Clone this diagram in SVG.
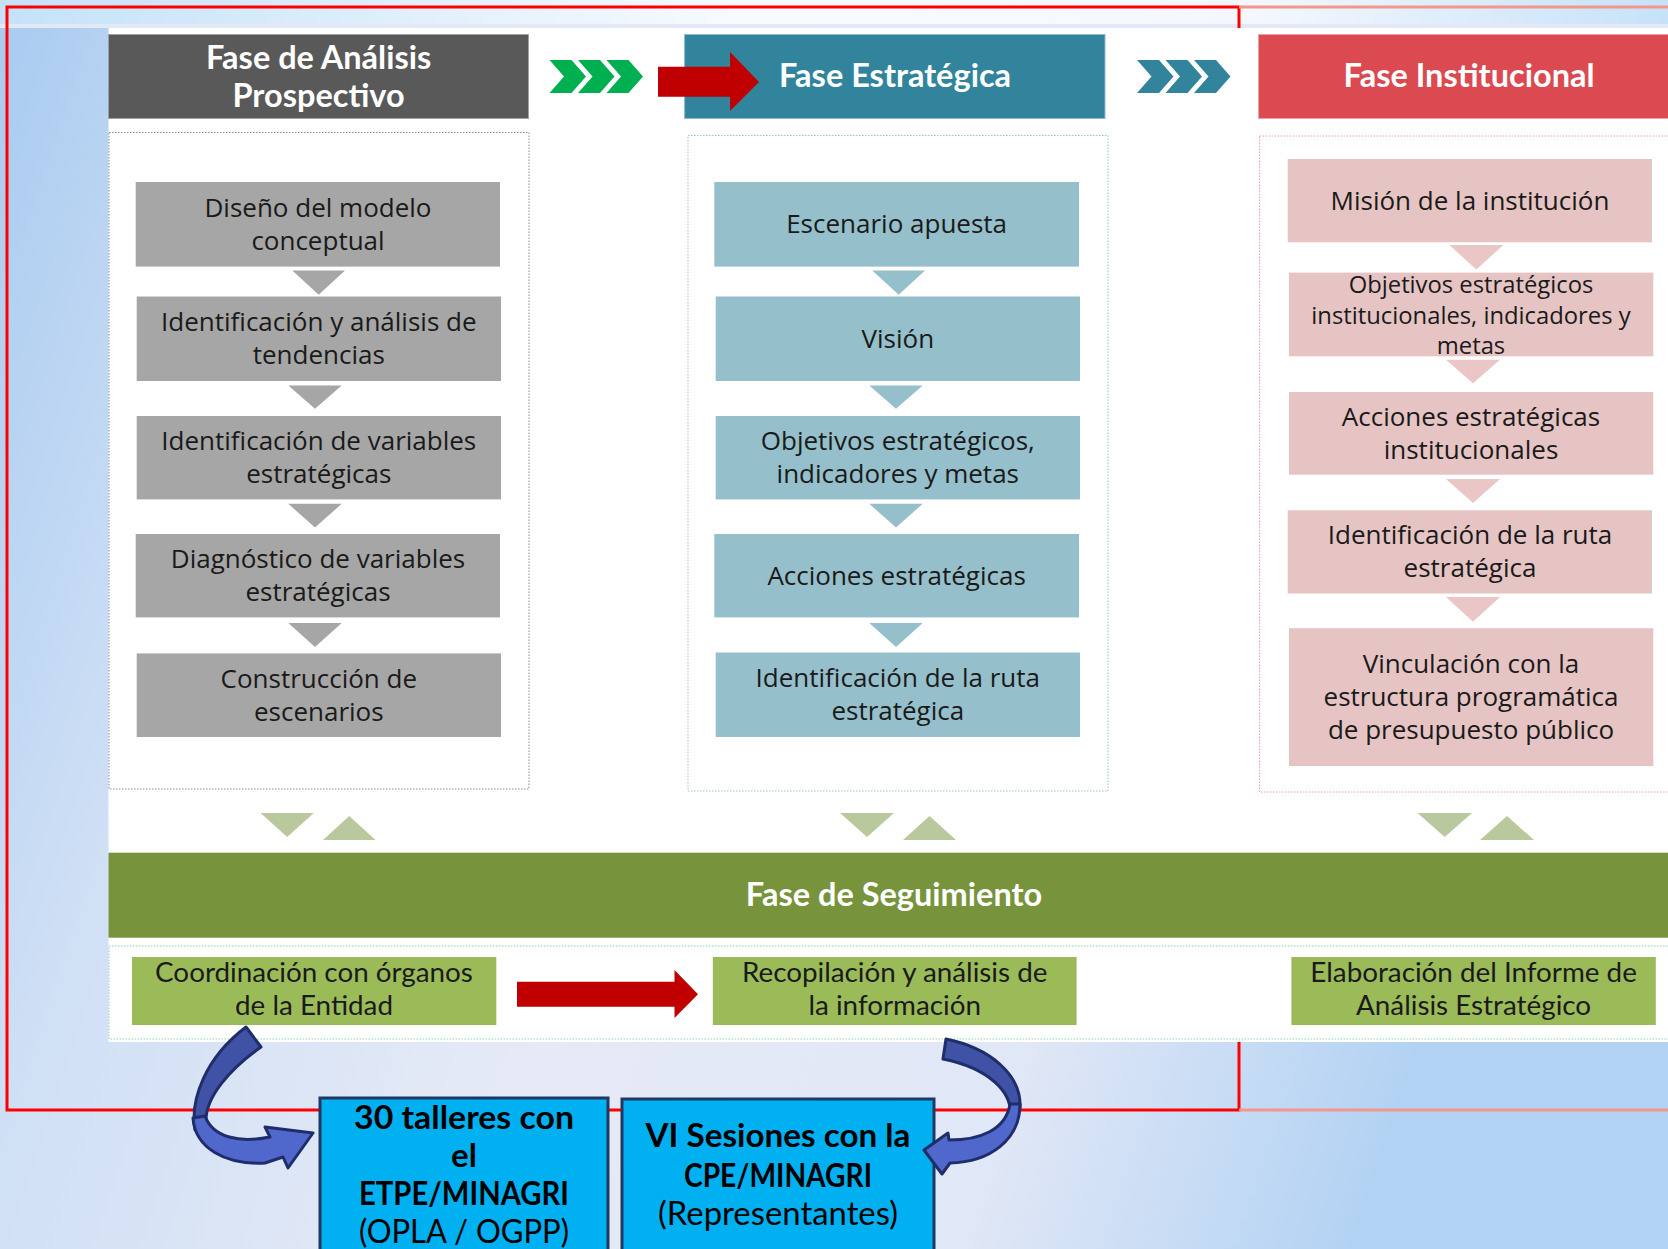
<svg xmlns="http://www.w3.org/2000/svg" width="1668" height="1249" viewBox="0 0 1668 1249">
  <defs>
    <linearGradient id="bg" x1="0" y1="0" x2="1" y2="0.25">
      <stop offset="0" stop-color="#A8CBF0"/>
      <stop offset="0.22" stop-color="#D0E0F5"/>
      <stop offset="0.5" stop-color="#E6EAF6"/>
      <stop offset="0.78" stop-color="#E0E7F6"/>
      <stop offset="1" stop-color="#B2D2F3"/>
    </linearGradient>
    <linearGradient id="topband" x1="0" y1="0" x2="1" y2="0">
      <stop offset="0" stop-color="#C4E2F8"/>
      <stop offset="0.45" stop-color="#F8FBFE"/>
      <stop offset="0.75" stop-color="#F4F8FE"/>
      <stop offset="1" stop-color="#C6E2F8"/>
    </linearGradient>
    <style>
      .hdr { font-family: Lato, "Liberation Sans", sans-serif; font-weight: 700; font-size: 32.5px; fill: #FFFFFF; text-anchor: middle; }
      .body { font-family: "Open Sans", "Noto Sans", sans-serif; font-size: 26px; fill: #1A1A1A; text-anchor: middle; }
      .small { font-size: 23.8px; }
      .seg { font-family: Lato, "Liberation Sans", sans-serif; font-size: 27.8px; fill: #1A1A1A; text-anchor: middle; }
      .blue { font-family: Lato, "Liberation Sans", sans-serif; font-size: 33px; fill: #000000; text-anchor: middle; }
      .b { font-weight: 700; }
      .gbox { fill: #A6A6A6; }
      .tbox { fill: #95BFCB; }
      .pbox { fill: #E6C4C4; }
      .sbox { fill: #9BBB59; }
      .gtri { fill: #A6A6A6; }
      .ttri { fill: #95BFCB; }
      .ptri { fill: #EAC6C6; }
      .otri { fill: #BAC89E; }
      .arrback { fill: #3F52A6; stroke: #1F2D6B; stroke-width: 3; stroke-linejoin: round; }
      .arrfront { fill: #5068CC; stroke: #1F2D6B; stroke-width: 3; stroke-linejoin: round; }
    </style>
  </defs>

  <!-- background -->
  <rect x="0" y="0" width="1668" height="1249" fill="url(#bg)"/>
  <rect x="0" y="0" width="1668" height="24" fill="url(#topband)"/>
  <rect x="0" y="24" width="1668" height="4" fill="#E2E8F6"/>

  <!-- red frame -->
  <rect x="7" y="7" width="1232" height="1103" fill="none" stroke="#FF0000" stroke-width="3"/>
  <line x1="1239" y1="7" x2="1668" y2="7" stroke="#F4968C" stroke-width="3"/>
  <line x1="1239" y1="1110" x2="1668" y2="1110" stroke="#F4968C" stroke-width="3"/>

  <!-- white panel -->
  <rect x="108.5" y="28" width="1560" height="1014" fill="#FFFFFF"/>

  <!-- Phase headers -->
  <g id="header-prospectivo">
    <rect x="108.5" y="34.5" width="420" height="84" fill="#595959" stroke="#A0A0A0" stroke-width="1"/>
    <text class="hdr" x="318.6" y="69">Fase de Análisis</text>
    <text class="hdr" x="318.6" y="107">Prospectivo</text>
  </g>
  <g id="header-estrategica">
    <rect x="684.6" y="34.5" width="420.4" height="84" fill="#31849B" stroke="#8CBCCA" stroke-width="1"/>
    <text class="hdr" x="895" y="87">Fase Estratégica</text>
  </g>
  <g id="header-institucional">
    <rect x="1258.5" y="34.5" width="410" height="84" fill="#DA4A50" stroke="#EBA3A5" stroke-width="1"/>
    <text class="hdr" x="1469" y="87">Fase Institucional</text>
  </g>

  <!-- column containers -->
  <g id="col-prospectivo">
    <rect x="109" y="132.5" width="420" height="656.5" fill="#FFFFFF" stroke="#8C8C8C" stroke-width="1" stroke-dasharray="1.5 1.5"/>
  </g>
  <g id="col-estrategica">
    <rect x="688" y="135.5" width="420" height="655.5" fill="#FFFFFF" stroke="#9CC3CF" stroke-width="1" stroke-dasharray="1.5 1.5"/>
  </g>
  <g id="col-institucional">
    <rect x="1259.5" y="136" width="410" height="656" fill="#FFFFFF" stroke="#F0A0A4" stroke-width="1" stroke-dasharray="1.5 1.5"/>
  </g>

  <!-- left column nodes -->
  <g id="p1"><rect class="gbox" x="135.7" y="182" width="364.3" height="84.6"/>
    <text class="body" x="318" y="216.8">Diseño del modelo</text>
    <text class="body" x="318" y="249.8">conceptual</text></g>
  <g id="p2"><rect class="gbox" x="136.7" y="296.5" width="364.3" height="84.5"/>
    <text class="body" x="318.8" y="331.2">Identificación y análisis de</text>
    <text class="body" x="318.8" y="364.2">tendencias</text></g>
  <g id="p3"><rect class="gbox" x="136.7" y="416" width="364.3" height="83.4"/>
    <text class="body" x="318.8" y="450.2">Identificación de variables</text>
    <text class="body" x="318.8" y="483.2">estratégicas</text></g>
  <g id="p4"><rect class="gbox" x="135.7" y="534" width="364.3" height="83.4"/>
    <text class="body" x="318" y="568.2">Diagnóstico de variables</text>
    <text class="body" x="318" y="601.2">estratégicas</text></g>
  <g id="p5"><rect class="gbox" x="136.7" y="653.4" width="364.3" height="83.6"/>
    <text class="body" x="318.8" y="687.7">Construcción de</text>
    <text class="body" x="318.8" y="720.7">escenarios</text></g>

  <!-- middle column nodes -->
  <g id="e1"><rect class="tbox" x="714.3" y="182" width="364.7" height="84.6"/>
    <text class="body" x="896.6" y="233.3">Escenario apuesta</text></g>
  <g id="e2"><rect class="tbox" x="715.7" y="296.5" width="364.3" height="84.5"/>
    <text class="body" x="897.8" y="347.7">Visión</text></g>
  <g id="e3"><rect class="tbox" x="715.7" y="416" width="364.3" height="83.4"/>
    <text class="body" x="897.8" y="450.2">Objetivos estratégicos,</text>
    <text class="body" x="897.8" y="483.2">indicadores y metas</text></g>
  <g id="e4"><rect class="tbox" x="714.3" y="534" width="364.7" height="83.4"/>
    <text class="body" x="896.6" y="584.7">Acciones estratégicas</text></g>
  <g id="e5"><rect class="tbox" x="715.7" y="652.5" width="364.3" height="84.5"/>
    <text class="body" x="897.8" y="687.2">Identificación de la ruta</text>
    <text class="body" x="897.8" y="720.2">estratégica</text></g>

  <!-- right column nodes -->
  <g id="i1"><rect class="pbox" x="1287.7" y="159" width="364.3" height="83.3"/>
    <text class="body" x="1470" y="209.6">Misión de la institución</text></g>
  <g id="i2"><rect class="pbox" x="1289" y="272.6" width="364.3" height="83.7"/>
    <text class="body small" x="1471" y="293">Objetivos estratégicos</text>
    <text class="body small" x="1471" y="323.5">institucionales, indicadores y</text>
    <text class="body small" x="1471" y="354">metas</text></g>
  <g id="i3"><rect class="pbox" x="1289" y="392" width="364.3" height="82.7"/>
    <text class="body" x="1471" y="425.8">Acciones estratégicas</text>
    <text class="body" x="1471" y="458.8">institucionales</text></g>
  <g id="i4"><rect class="pbox" x="1287.7" y="510.3" width="364.3" height="83.2"/>
    <text class="body" x="1470" y="544.4">Identificación de la ruta</text>
    <text class="body" x="1470" y="577.4">estratégica</text></g>
  <g id="i5"><rect class="pbox" x="1289" y="628.2" width="364.3" height="137.9"/>
    <text class="body" x="1471" y="673.2">Vinculación con la</text>
    <text class="body" x="1471" y="706.2">estructura programática</text>
    <text class="body" x="1471" y="739.2">de presupuesto público</text></g>

  <!-- seguimiento band -->
  <g id="header-seguimiento">
    <rect x="108.5" y="852.7" width="1560" height="85" fill="#77933C"/>
    <text class="hdr" x="894" y="905.5">Fase de Seguimiento</text>
  </g>
  <g id="col-seguimiento">
    <rect x="109" y="946" width="1560" height="93" fill="#FFFFFF" stroke="#8FD3A6" stroke-width="1" stroke-dasharray="1.5 1.5"/>
  </g>
  <g id="s1"><rect class="sbox" x="132" y="957" width="364.3" height="68"/>
    <text class="seg" x="314" y="982">Coordinación con órganos</text>
    <text class="seg" x="314" y="1015.3">de la Entidad</text></g>
  <g id="s2"><rect class="sbox" x="712.8" y="957" width="363.8" height="68"/>
    <text class="seg" x="894.7" y="982">Recopilación y análisis de</text>
    <text class="seg" x="894.7" y="1015.3">la información</text></g>
  <g id="s3"><rect class="sbox" x="1291.4" y="957" width="364.4" height="68"/>
    <text class="seg" x="1473.6" y="982">Elaboración del Informe de</text>
    <text class="seg" x="1473.6" y="1015.3">Análisis Estratégico</text></g>

  <!-- bottom blue boxes -->
  <g id="talleres">
    <rect x="320" y="1098" width="288" height="170" fill="#00B0F0" stroke="#1F3864" stroke-width="3"/>
    <text class="blue b" x="464" y="1129" textLength="220" lengthAdjust="spacingAndGlyphs">30 talleres con</text>
    <text class="blue b" x="464" y="1167">el</text>
    <text class="blue b" x="464" y="1205" textLength="210" lengthAdjust="spacingAndGlyphs">ETPE/MINAGRI</text>
    <text class="blue" x="464" y="1243" textLength="210" lengthAdjust="spacingAndGlyphs">(OPLA / OGPP)</text>
  </g>
  <g id="sesiones">
    <rect x="622" y="1099" width="312" height="170" fill="#00B0F0" stroke="#1F3864" stroke-width="3"/>
    <text class="blue b" x="778" y="1147" textLength="265" lengthAdjust="spacingAndGlyphs">VI Sesiones con la</text>
    <text class="blue b" x="778" y="1187" textLength="188" lengthAdjust="spacingAndGlyphs">CPE/MINAGRI</text>
    <text class="blue" x="778" y="1225" textLength="240" lengthAdjust="spacingAndGlyphs">(Representantes)</text>
  </g>

  <!-- connectors -->
  <g id="connectors">
    <!-- green chevrons -->
    <g fill="#00B050">
      <polygon points="549.5,60 571.5,60 586,76.5 571.5,93 549.5,93 564,76.5"/>
      <polygon points="578,60 600,60 614.5,76.5 600,93 578,93 592.5,76.5"/>
      <polygon points="606.5,60 628.5,60 643,76.5 628.5,93 606.5,93 621,76.5"/>
    </g>
    <!-- teal chevrons -->
    <g fill="#31849B">
      <polygon points="1137,60 1159,60 1173.5,76.5 1159,93 1137,93 1151.5,76.5"/>
      <polygon points="1165.5,60 1187.5,60 1202,76.5 1187.5,93 1165.5,93 1180,76.5"/>
      <polygon points="1194,60 1216,60 1230.5,76.5 1216,93 1194,93 1208.5,76.5"/>
    </g>
    <!-- red arrow top -->
    <polygon fill="#C00000" points="658,66.7 730,66.7 730,52 759,82 730,111 730,96.7 658,96.7"/>
    <!-- red arrow bottom -->
    <polygon fill="#C00000" points="517,981.7 674.5,981.7 674.5,970 698,994.3 674.5,1018 674.5,1006.7 517,1006.7"/>

    <!-- left column triangles -->
    <polygon class="gtri" points="292.3,270.5 345,270.5 318.7,294.8"/>
    <polygon class="gtri" points="288.3,385.4 341.7,385.4 315,408.8"/>
    <polygon class="gtri" points="288.3,503.8 341.7,503.8 315,527.6"/>
    <polygon class="gtri" points="288.3,623 341.7,623 315,647"/>
    <!-- middle column triangles -->
    <polygon class="ttri" points="872.3,270.5 925,270.5 898.7,294.8"/>
    <polygon class="ttri" points="869.3,385.4 922.7,385.4 896,408.8"/>
    <polygon class="ttri" points="869.3,503.8 922.7,503.8 896,527.6"/>
    <polygon class="ttri" points="869.3,623 922.7,623 896,647"/>
    <!-- right column triangles -->
    <polygon class="ptri" points="1449.3,244.9 1503.3,244.9 1476.3,269.6"/>
    <polygon class="ptri" points="1446,359.8 1500,359.8 1473,383.2"/>
    <polygon class="ptri" points="1446,479 1500,479 1473,503"/>
    <polygon class="ptri" points="1446,597 1500,597 1473,621.7"/>

    <!-- olive feedback triangles -->
    <polygon class="otri" points="260.6,813 313.8,813 287.2,837"/>
    <polygon class="otri" points="323,840 375.5,840 349.2,816"/>
    <polygon class="otri" points="840,813 894,813 867,837"/>
    <polygon class="otri" points="903,840 956,840 929.5,816"/>
    <polygon class="otri" points="1417.5,813 1472,813 1444.7,837"/>
    <polygon class="otri" points="1480,840 1534,840 1507,816"/>

    <!-- curved arrow left -->
    <path class="arrback" d="M246,1027 L261,1047 C228,1070 206,1098 206,1120 C206,1135 214,1142 222,1146 L195,1130 C190,1100 205,1058 246,1027 Z"/>
    <path class="arrfront" d="M193,1118 C195,1148 225,1165 265,1163 L283,1157 L288,1168 L313,1133 L265,1127 L270,1137 C240,1143 213,1138 205,1116 Z"/>
    <!-- curved arrow right -->
    <path class="arrback" d="M946,1039 C990,1048 1022,1075 1020,1108 L1010,1118 C1014,1092 988,1068 943,1059 Z"/>
    <path class="arrfront" d="M1020,1104 C1020,1140 990,1162 950,1163 L942,1174 L924,1150 L948,1133 L949,1140 C980,1140 1006,1130 1010,1104 Z"/>
  </g>
</svg>
